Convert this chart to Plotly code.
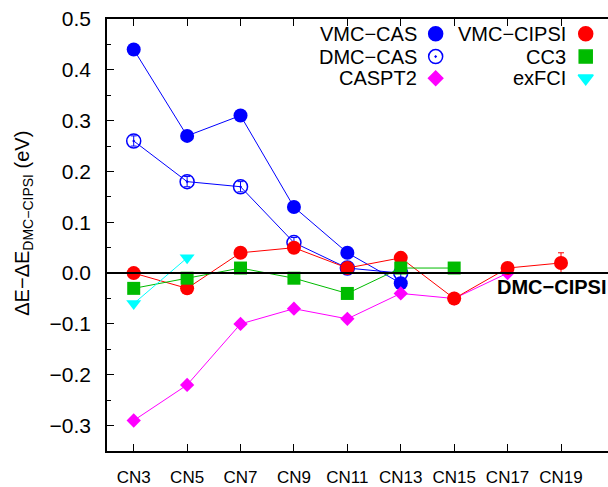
import plotly.graph_objects as go

categories = ["CN3", "CN5", "CN7", "CN9", "CN11", "CN13", "CN15", "CN17", "CN19"]

vmc_cas = [0.44, 0.27, 0.31, 0.13, 0.04, -0.02]
vmc_cas_err = [0.004, 0.004, 0.004, 0.004, 0.004, 0.004]
dmc_cas = [0.26, 0.18, 0.17, 0.06, 0.01, 0.00]
dmc_cas_err = [0.01, 0.01, 0.01, 0.01, 0.01, 0.01]
caspt2 = [-0.29, -0.22, -0.10, -0.07, -0.09, -0.04, -0.05, 0.00]
vmc_cipsi = [0.00, -0.03, 0.04, 0.05, 0.01, 0.03, -0.05, 0.01, 0.02]
vmc_cipsi_err = [0.005, 0.005, 0.005, 0.005, 0.005, 0.005, 0.005, 0.005, 0.02]
cc3 = [-0.03, -0.01, 0.01, -0.01, -0.04, 0.01, 0.01]
exfci = [-0.06, 0.03]

FONT = "Liberation Sans, Arial, sans-serif"
BLUE = "#0000ff"
RED = "#ff0000"
GREEN = "#00bb00"
MAGENTA = "#ff00ff"
CYAN = "#00ffff"

fig = go.Figure()

fig.add_trace(go.Scatter(
    x=categories[:len(vmc_cas)], y=vmc_cas, mode="lines+markers",
    line=dict(color=BLUE, width=1),
    marker=dict(symbol="circle", size=14, color=BLUE),
    error_y=dict(type="data", array=vmc_cas_err, color=BLUE, thickness=1, width=2),
    showlegend=False))

fig.add_trace(go.Scatter(
    x=categories[:len(dmc_cas)], y=dmc_cas, mode="lines+markers",
    line=dict(color=BLUE, width=1),
    marker=dict(symbol="circle-open-dot", size=14, color=BLUE, line=dict(width=1.5, color=BLUE)),
    error_y=dict(type="data", array=dmc_cas_err, color=BLUE, thickness=1, width=3),
    showlegend=False))

fig.add_trace(go.Scatter(
    x=categories[:len(caspt2)], y=caspt2, mode="lines+markers",
    line=dict(color=MAGENTA, width=1),
    marker=dict(symbol="diamond", size=11, color=MAGENTA),
    showlegend=False))

fig.add_trace(go.Scatter(
    x=categories[:len(vmc_cipsi)], y=vmc_cipsi, mode="lines+markers",
    line=dict(color=RED, width=1),
    marker=dict(symbol="circle", size=14, color=RED),
    error_y=dict(type="data", array=vmc_cipsi_err, color=RED, thickness=1, width=3),
    showlegend=False))

fig.add_trace(go.Scatter(
    x=categories[:len(cc3)], y=cc3, mode="lines+markers",
    line=dict(color=GREEN, width=1),
    marker=dict(symbol="square", size=13, color=GREEN),
    showlegend=False))

fig.add_trace(go.Scatter(
    x=categories[:len(exfci)], y=exfci, mode="lines+markers",
    line=dict(color=CYAN, width=1),
    marker=dict(symbol="triangle-down", size=13, color=CYAN),
    showlegend=False))

# legend keys (text left, symbol right) drawn on an overlay axis in plot-area fractions
legend_names = ["VMC\u2212CAS", "DMC\u2212CAS", "CASPT2", "VMC\u2212CIPSI", "CC3", "exFCI"]
legend_symbols = ["circle", "circle-open-dot", "diamond", "circle", "square", "triangle-down"]
legend_colors = [BLUE, BLUE, MAGENTA, RED, GREEN, CYAN]
legend_sizes = [14, 14, 11, 14, 13, 13]
key_x = [0.656, 0.656, 0.656, 0.9555, 0.9555, 0.9555]
key_y = [0.966, 0.913, 0.863, 0.966, 0.913, 0.863]
text_x = [0.623, 0.623, 0.623, 0.920, 0.920, 0.920]

for i in range(6):
    fig.add_trace(go.Scatter(
        x=[key_x[i]], y=[key_y[i]], xaxis="x2", yaxis="y2", mode="markers",
        marker=dict(symbol=legend_symbols[i], size=legend_sizes[i], color=legend_colors[i],
                    line=dict(width=1.5, color=legend_colors[i])),
        showlegend=False, hoverinfo="skip"))

annotations = []
for i in range(6):
    annotations.append(dict(
        x=text_x[i], y=key_y[i], xref="x2", yref="y2", text=legend_names[i],
        showarrow=False, xanchor="right", yanchor="middle",
        font=dict(family=FONT, size=20, color="black")))

annotations.append(dict(
    x=1.0, y=0, xref="paper", yref="y", text="<b>DMC\u2212CIPSI</b>",
    showarrow=False, xanchor="right", yanchor="middle", yshift=-14,
    font=dict(family=FONT, size=20, color="black")))

annotations.append(dict(
    x=-0.166, y=0.528, xref="paper", yref="paper",
    text="\u0394E\u2212\u0394E<sub>DMC\u2212CIPSI</sub> (eV)", textangle=-90,
    showarrow=False, xanchor="center", yanchor="middle",
    font=dict(family=FONT, size=20, color="black")))

fig.update_layout(
    width=608, height=487,
    margin=dict(l=107, r=0, t=19, b=31),
    plot_bgcolor="white", paper_bgcolor="white",
    font=dict(family=FONT, color="black"),
    annotations=annotations,
    shapes=[dict(type="line", xref="paper", yref="y", x0=0, x1=1, y0=0, y1=0,
                 line=dict(color="black", width=2), layer="above")],
    xaxis=dict(
        type="category", categoryorder="array", categoryarray=categories,
        range=[-0.5, 8.88], showgrid=False, zeroline=False,
        showline=True, linecolor="black", linewidth=1.5, mirror="ticks",
        ticks="inside", ticklen=7, tickcolor="black", tickwidth=1,
        tickfont=dict(family=FONT, size=17, color="black"),
        ticklabelstandoff=10),
    yaxis=dict(
        range=[-0.35, 0.5], dtick=0.1, tick0=0, tickformat=".1f",
        showgrid=False, zeroline=False,
        showline=True, linecolor="black", linewidth=1.5, mirror=False,
        ticks="inside", ticklen=7, tickcolor="black", tickwidth=1,
        minor=dict(ticks="inside", dtick=0.05, ticklen=4, tickcolor="black"),
        tickfont=dict(family=FONT, size=21, color="black"),
        ticklabelstandoff=10),
    xaxis2=dict(overlaying="x", range=[0, 1], visible=False, fixedrange=True),
    yaxis2=dict(overlaying="y", range=[0, 1], visible=False, fixedrange=True),
)

fig.write_html("out.html", config={"displayModeBar": False},
               post_script="document.body.style.margin='0px';document.body.style.overflow='hidden';")
